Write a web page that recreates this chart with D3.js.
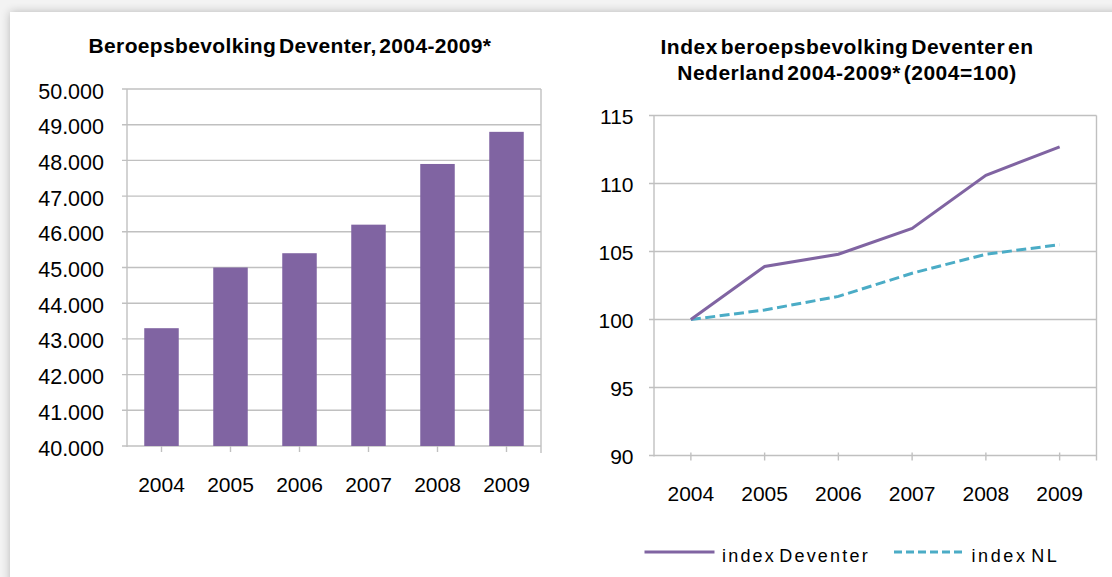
<!DOCTYPE html>
<html>
<head>
<meta charset="utf-8">
<script src="https://cdn.jsdelivr.net/npm/d3@7"></script>
<style>
  html, body { margin: 0; padding: 0; background: #efefef; }
  svg { display: block; }
  text { font-family: "Liberation Sans", Arial, sans-serif; fill: #000; }
</style>
</head>
<body>
<svg id="chart" width="1112" height="577"></svg>
<script>
// Beroepsbevolking Deventer 2004-2009 and index vs Nederland
const years = ["2004", "2005", "2006", "2007", "2008", "2009"];
const labourForce = [43300, 45000, 45400, 46200, 47900, 48800];
const indexDeventer = [100, 103.9, 104.8, 106.7, 110.6, 112.7];
const indexNL = [100, 100.7, 101.7, 103.4, 104.8, 105.5];
const barTicks = [40000, 41000, 42000, 43000, 44000, 45000, 46000, 47000, 48000, 49000, 50000];
const indexTicks = [90, 95, 100, 105, 110, 115];
const seriesNames = ["index Deventer", "index NL"];

const purple = "#8064A2";
const teal = "#4BACC6";
const grid = "#c0c0c0";

const nl = d3.formatLocale({ decimal: ",", thousands: ".", grouping: [3], currency: ["€", ""] });
const fmtThousands = nl.format(",.0f");

const svg = d3.select("#chart");

// page backdrop and white panel with a soft shadow
const defs = svg.append("defs");
const sh = defs.append("filter").attr("id", "shadow").attr("x", "-5%").attr("y", "-5%").attr("width", "110%").attr("height", "110%");
sh.append("feGaussianBlur").attr("in", "SourceAlpha").attr("stdDeviation", 5);
sh.append("feOffset").attr("dx", 0).attr("dy", 0).attr("result", "b");
sh.append("feComponentTransfer").append("feFuncA").attr("type", "linear").attr("slope", 0.25);
const m = sh.append("feMerge");
m.append("feMergeNode");
m.append("feMergeNode").attr("in", "SourceGraphic");

svg.append("rect").attr("width", 1112).attr("height", 577).attr("fill", "#f3f3f3");
svg.append("rect").attr("x", 10).attr("y", 12).attr("width", 1130).attr("height", 600)
  .attr("fill", "#fff").attr("filter", "url(#shadow)");

const titleStyle = sel => sel
  .attr("text-anchor", "middle").attr("font-size", 21).attr("font-weight", "bold")
  .attr("letter-spacing", 0.35).attr("word-spacing", -3.5);

// ---------- Left: bar chart ----------
const L = { x0: 127, x1: 541, y0: 89, y1: 446 };
const xBar = d3.scaleBand().domain(years).range([L.x0, L.x1]).paddingInner(0.5).paddingOuter(0.25);
const yBar = d3.scaleLinear().domain([40000, 50000]).range([L.y1, L.y0]);

const gL = svg.append("g");

gL.append("text").attr("x", 290).attr("y", 53).call(titleStyle)
  .text("Beroepsbevolking Deventer, 2004-2009*");

// horizontal gridlines
gL.append("g").selectAll("line").data(barTicks).join("line")
  .attr("x1", L.x0 - 5).attr("x2", L.x1)
  .attr("y1", d => yBar(d)).attr("y2", d => yBar(d))
  .attr("stroke", grid).attr("stroke-width", 1.4);

// plot frame sides
gL.append("line").attr("x1", L.x0).attr("x2", L.x0).attr("y1", L.y0).attr("y2", L.y1 + 1)
  .attr("stroke", grid).attr("stroke-width", 1.4);
gL.append("line").attr("x1", L.x1).attr("x2", L.x1).attr("y1", L.y0).attr("y2", L.y1 + 7)
  .attr("stroke", grid).attr("stroke-width", 1.4);

// bars
gL.append("g").selectAll("rect").data(years).join("rect")
  .attr("x", d => xBar(d)).attr("width", xBar.bandwidth())
  .attr("y", (d, i) => yBar(labourForce[i]))
  .attr("height", (d, i) => yBar(40000) - yBar(labourForce[i]))
  .attr("fill", purple);

// y tick labels
gL.append("g").selectAll("text").data(barTicks).join("text")
  .attr("x", 104).attr("y", d => yBar(d) + 2).attr("dy", "0.35em")
  .attr("text-anchor", "end").attr("font-size", 21.5)
  .text(d => fmtThousands(d));

// x tick marks and labels
gL.append("g").selectAll("line").data(years).join("line")
  .attr("x1", d => xBar(d) + xBar.bandwidth() / 2).attr("x2", d => xBar(d) + xBar.bandwidth() / 2)
  .attr("y1", L.y1).attr("y2", L.y1 + 6)
  .attr("stroke", grid).attr("stroke-width", 1.4);
gL.append("g").selectAll("text").data(years).join("text")
  .attr("x", d => xBar(d) + xBar.bandwidth() / 2).attr("y", 491.5)
  .attr("text-anchor", "middle").attr("font-size", 21)
  .text(d => d);

// ---------- Right: index line chart ----------
const R = { x0: 654, x1: 1096.5, y0: 115.5, y1: 455.5 };
const xIdx = d3.scalePoint().domain(years).range([R.x0, R.x1]).padding(0.5);
const yIdx = d3.scaleLinear().domain([90, 115]).range([R.y1, R.y0]);

const gR = svg.append("g");

gR.append("text").attr("x", 847).attr("y", 54).call(titleStyle)
  .attr("letter-spacing", 0.5)
  .text("Index beroepsbevolking Deventer en");
gR.append("text").attr("x", 847).attr("y", 80).call(titleStyle)
  .attr("letter-spacing", 0.5)
  .text("Nederland 2004-2009* (2004=100)");

gR.append("g").selectAll("line").data(indexTicks).join("line")
  .attr("x1", R.x0 - 5).attr("x2", R.x1)
  .attr("y1", d => yIdx(d)).attr("y2", d => yIdx(d))
  .attr("stroke", grid).attr("stroke-width", 1.4);
gR.append("line").attr("x1", R.x0).attr("x2", R.x0).attr("y1", R.y0).attr("y2", R.y1 + 1)
  .attr("stroke", grid).attr("stroke-width", 1.4);
gR.append("line").attr("x1", R.x1).attr("x2", R.x1).attr("y1", R.y0).attr("y2", R.y1 + 5)
  .attr("stroke", grid).attr("stroke-width", 1.4);

gR.append("g").selectAll("text").data(indexTicks).join("text")
  .attr("x", 633.5).attr("y", d => yIdx(d) + 1).attr("dy", "0.35em")
  .attr("text-anchor", "end").attr("font-size", 21)
  .text(d => d);

gR.append("g").selectAll("line").data(years).join("line")
  .attr("x1", d => xIdx(d)).attr("x2", d => xIdx(d))
  .attr("y1", R.y1 - 3).attr("y2", R.y1 + 5)
  .attr("stroke", grid).attr("stroke-width", 1.4);
gR.append("g").selectAll("text").data(years).join("text")
  .attr("x", d => xIdx(d)).attr("y", 501)
  .attr("text-anchor", "middle").attr("font-size", 21)
  .text(d => d);

const line = d3.line().x((d, i) => xIdx(years[i])).y(d => yIdx(d));

gR.append("path").datum(indexNL).attr("d", line)
  .attr("fill", "none").attr("stroke", teal).attr("stroke-width", 3)
  .attr("stroke-dasharray", "10,4.5");
gR.append("path").datum(indexDeventer).attr("d", line)
  .attr("fill", "none").attr("stroke", purple).attr("stroke-width", 3);

// legend
const legend = gR.append("g");
const legendItems = [
  { name: seriesNames[0], color: purple, dash: null, x: 644.5, ls: 2.2 },
  { name: seriesNames[1], color: teal, dash: "8,4", x: 894, ls: 2.6 }
];
legendItems.forEach(it => {
  legend.append("line").attr("x1", it.x).attr("x2", it.x + 70).attr("y1", 552).attr("y2", 552)
    .attr("stroke", it.color).attr("stroke-width", 3).attr("stroke-dasharray", it.dash);
  legend.append("text").attr("x", it.x + 77.5).attr("y", 561.5).attr("font-size", 18)
    .attr("letter-spacing", it.ls).attr("word-spacing", -4)
    .text(it.name);
});
</script>
</body>
</html>
